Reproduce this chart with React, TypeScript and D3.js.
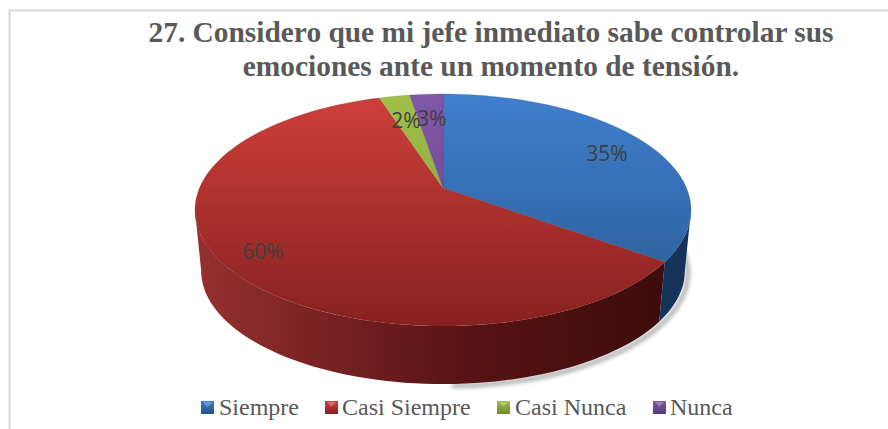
import React from "react";
import * as d3 from "d3";

const categories = ["Siempre", "Casi Siempre", "Casi Nunca", "Nunca"];
const values = [35, 60, 2.4, 2.6];
const titleLines = [
  "27. Considero que mi jefe inmediato sabe controlar sus",
  "emociones ante un momento de tensión.",
];

const W = 888, H = 429;
const apexX = 443, apexY = 188;
const rxBase = 243.5, ryBase = 111.8, persp = 0.19;
const lowerScale = 0.975, lowerShift = 61.5;

const topColors = [["#3f7fcd", "#2a5a92"], ["#cf3f3b", "#86211f"], ["#a0c04a", "#7d9a38"], ["#8258a8", "#5f3f85"]];
const sideColors = [["#11294a", "#16335a"], ["#963030", "#3a0b0b"], ["#5a7024", "#5a7024"], ["#46306a", "#46306a"]];
const swatchColors = [["#3f7fcd", "#25507f"], ["#cf3f3b", "#86211f"], ["#a0c04a", "#6f8a30"], ["#8258a8", "#55387a"]];
const labelPos = [[607, 153], [263, 251], [406, 120], [432, 118]];
const legendSwatchX = [201, 325, 497, 653];
const legendTextX = [219, 342, 515, 670];

function project(theta: number): [number, number] {
  const u = Math.sin(theta), f = -Math.cos(theta);
  const w = 1 - persp * f;
  return [apexX + (rxBase * u) / w, apexY + (ryBase * f) / w];
}
const lower = ([x, y]: [number, number]): [number, number] => [
  apexX + (x - apexX) * lowerScale,
  apexY + (y - apexY) * lowerScale + lowerShift,
];

const pieGen = d3.pie<number>().sort(null).value((d) => d);
const arcs = pieGen(values);
const total = d3.sum(values);
const line = d3.line<[number, number]>();

const visibleFrom = Math.acos(-persp);
const visibleTo = Math.PI * 2 - visibleFrom;

function arcPoints(a0: number, a1: number) {
  const n = Math.max(4, Math.ceil(((a1 - a0) / Math.PI) * 90));
  return d3.range(n + 1).map((i) => project(a0 + ((a1 - a0) * i) / n));
}

function topPath(a0: number, a1: number) {
  return line([[apexX, apexY], ...arcPoints(a0, a1)])! + "Z";
}
function sidePath(a0: number, a1: number) {
  const s = Math.max(a0, visibleFrom), e = Math.min(a1, visibleTo);
  if (e <= s) return "";
  const pts = arcPoints(s, e);
  return line([...pts, ...pts.map(lower).reverse()])! + "Z";
}

export default function App() {
  const serif = "'Liberation Serif', serif";
  const shadowPts = arcPoints(visibleFrom - 0.5, visibleTo - 1.4).map(lower).map(([x, y]) => [x + 3, y + 2] as [number, number]);
  return (
    <svg width={W} height={H} viewBox={`0 0 ${W} ${H}`} style={{ position: "absolute", left: 0, top: 0, background: "#fff" }}>
      <defs>
        <filter id="blur" x="-10%" y="-20%" width="120%" height="140%">
          <feGaussianBlur stdDeviation="2" />
        </filter>
        {categories.map((_, i) => (
          <React.Fragment key={i}>
            <linearGradient id={`top${i}`} gradientUnits="userSpaceOnUse" x1="0" y1="94" x2="0" y2="326">
              <stop offset="0" stopColor={topColors[i][0]} />
              <stop offset="1" stopColor={topColors[i][1]} />
            </linearGradient>
            <linearGradient id={`side${i}`} gradientUnits="userSpaceOnUse" x1="195" y1="0" x2="691" y2="0">
              <stop offset="0" stopColor={sideColors[i][0]} />
              <stop offset={i === 1 ? 0.55 : 1} stopColor={i === 1 ? "#571313" : sideColors[i][1]} />
              <stop offset="1" stopColor={sideColors[i][1]} />
            </linearGradient>
            <linearGradient id={`sw${i}`} x1="0" y1="0" x2="0" y2="1">
              <stop offset="0" stopColor={swatchColors[i][0]} />
              <stop offset="1" stopColor={swatchColors[i][1]} />
            </linearGradient>
          </React.Fragment>
        ))}
      </defs>

      <path d={`M9.5 ${H}V10.5H${W}`} fill="none" stroke="#d9d9d9" strokeWidth={2} />

      <path d={line(shadowPts)!} fill="none" stroke="#000" strokeWidth={4} opacity={0.35} filter="url(#blur)" />

      {arcs.map((a, i) => (
        <path key={`s${i}`} d={sidePath(a.startAngle, a.endAngle)} fill={`url(#side${i})`} />
      ))}
      {arcs.map((a, i) => (
        <path key={`t${i}`} d={topPath(a.startAngle, a.endAngle)} fill={`url(#top${i})`} stroke={topColors[i][1]} strokeOpacity={0.35} strokeWidth={0.7} />
      ))}

      {arcs.map((a, i) => (
        <text key={`l${i}`} x={labelPos[i][0]} y={labelPos[i][1]} textAnchor="middle" dominantBaseline="central"
          fontFamily="'Open Sans', sans-serif" fontSize={21} fill="#404040">
          {`${Math.round((a.value / total) * 100)}%`}
        </text>
      ))}

      {titleLines.map((t, i) => (
        <text key={t} x={491} y={42 + i * 34} textAnchor="middle" fontFamily={serif} fontWeight="bold" fontSize={29.4} fill="#595959">{t}</text>
      ))}

      {categories.map((c, i) => (
        <g key={c}>
          <rect x={legendSwatchX[i]} y={401} width={13} height={13} fill={`url(#sw${i})`} />
          <path d={`M${legendSwatchX[i] + 2} 402L${legendSwatchX[i] + 11} 402L${legendSwatchX[i] + 6.5} 407Z`} fill="#fff" opacity={0.25} />
          <text x={legendTextX[i]} y={415} fontFamily={serif} fontSize={24} fill="#595959">{c}</text>
        </g>
      ))}
    </svg>
  );
}
